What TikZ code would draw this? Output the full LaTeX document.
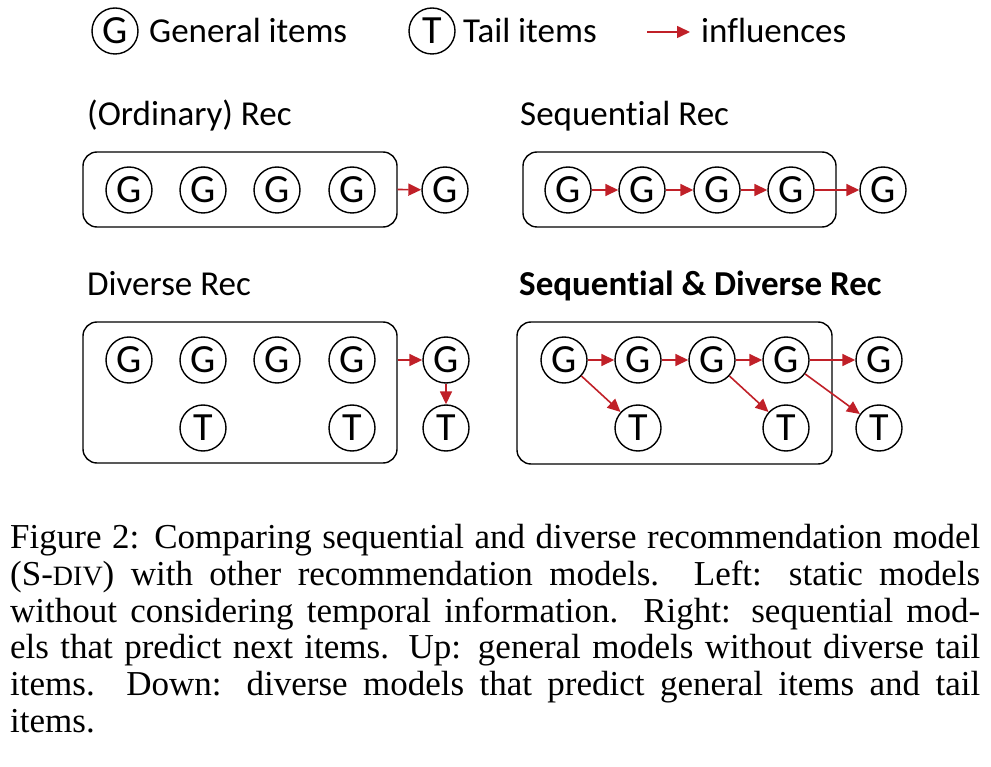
\documentclass[tikz,border=0pt]{standalone}
\usepackage{fontspec}
\setmainfont{Liberation Serif}
\newfontfamily\calibri[Ligatures=NoCommon]{Carlito}
\usetikzlibrary{arrows.meta}
\definecolor{inflred}{RGB}{192,32,40}
\tikzstyle{item} = [circle, draw=black, line width=1.4pt, minimum size=46pt, inner sep=0pt, font=\calibri\fontsize{40}{40}\selectfont]
\tikzstyle{group} = [rectangle, rounded corners=14pt, draw=black, line width=1.4pt, inner sep=0pt]
\tikzstyle{label} = [anchor=base west, inner sep=0pt, font=\calibri\fontsize{35}{35}\selectfont]
\tikzstyle{arrow} = [draw=inflred, line width=1.6pt, -{Triangle[length=13pt,width=12pt]}]
\newcommand{\fakesc}[1]{{\fontsize{28}{28}\selectfont #1}}

\begin{document}
\begin{tikzpicture}[x=1pt, y=-1pt]
	\useasboundingbox (0,0) rectangle (991,767);
	% legend
	\node (lgG) at (115, 31) [item] {G};
	\node (lgGtext) at (149, 43) [label] {General items};
	\node (lgT) at (432, 31) [item] {T};
	\node (lgTtext) at (463, 43) [label] {Tail items};
	\coordinate (lgfrom) at (647, 32);
	\coordinate (lgto) at (690, 32);
	\draw[arrow] (lgfrom) -- (lgto);
	\node (lgtext) at (701, 43) [label] {influences};

	% (Ordinary) Rec
	\node (ordtitle) at (87, 126) [label] {(Ordinary) Rec};
	\node (ordbox) at (240, 189.5) [group, minimum width=314pt, minimum height=75pt] {};
	\node (ordg1) at (129, 190) [item] {G};
	\node (ordg2) at (203, 190) [item] {G};
	\node (ordg3) at (277, 190) [item] {G};
	\node (ordg4) at (352, 190) [item] {G};
	\node (ordnext) at (445, 190) [item] {G};
	\draw[arrow] (ordbox.east) -- (ordnext);

	% Sequential Rec
	\node (seqtitle) at (520, 126) [label] {Sequential Rec};
	\node (seqbox) at (679.5, 189.5) [group, minimum width=313pt, minimum height=75pt] {};
	\node (seqg1) at (568, 190) [item] {G};
	\node (seqg2) at (642, 190) [item] {G};
	\node (seqg3) at (717, 190) [item] {G};
	\node (seqg4) at (791, 190) [item] {G};
	\node (seqnext) at (883, 190) [item] {G};
	\draw[arrow] (seqg1) -- (seqg2);
	\draw[arrow] (seqg2) -- (seqg3);
	\draw[arrow] (seqg3) -- (seqg4);
	\draw[arrow] (seqg4) -- (seqnext);

	% Diverse Rec
	\node (divtitle) at (87, 296) [label] {Diverse Rec};
	\node (divbox) at (240, 392.5) [group, minimum width=314pt, minimum height=141pt] {};
	\node (divg1) at (129, 360) [item] {G};
	\node (divg2) at (203, 360) [item] {G};
	\node (divg3) at (277, 360) [item] {G};
	\node (divg4) at (352, 360) [item] {G};
	\node (divt1) at (203, 428) [item] {T};
	\node (divt2) at (352, 428) [item] {T};
	\node (divnextg) at (446, 360) [item] {G};
	\node (divnextt) at (446, 428) [item] {T};
	\draw[arrow] (divbox.east |- divnextg) -- (divnextg);
	\draw[arrow] (divnextg) -- (divnextt);

	% Sequential & Diverse Rec
	\node (sdtitle) at (519, 296) [label, font=\calibri\bfseries\fontsize{35}{35}\selectfont] {Sequential \& Diverse Rec};
	\node (sdbox) at (674.5, 393) [group, minimum width=315pt, minimum height=142pt] {};
	\node (sdg1) at (564, 360) [item] {G};
	\node (sdg2) at (638, 360) [item] {G};
	\node (sdg3) at (712, 360) [item] {G};
	\node (sdg4) at (786, 360) [item] {G};
	\node (sdnextg) at (879, 360) [item] {G};
	\node (sdt1) at (638, 428) [item] {T};
	\node (sdt2) at (786, 428) [item] {T};
	\node (sdnextt) at (879, 428) [item] {T};
	\draw[arrow] (sdg1) -- (sdg2);
	\draw[arrow] (sdg2) -- (sdg3);
	\draw[arrow] (sdg3) -- (sdg4);
	\draw[arrow] (sdg4) -- (sdnextg);
	\draw[arrow] (sdg1) -- (sdt1);
	\draw[arrow] (sdg3) -- (sdt2);
	\draw[arrow] (sdg4) -- (sdnextt);

	% caption
	\node (caption) at (10, 524) [anchor=north west, inner sep=0pt, text width=970pt, align=justify, font=\fontsize{35}{36.8}\selectfont]
		{Figure 2: Comparing sequential and diverse recommendation model\linebreak
		(S-\fakesc{DIV}) with other recommendation models. Left: static models\linebreak
		without considering temporal information. Right: sequential mod-\linebreak
		els that predict next items. Up: general models without diverse tail\linebreak
		items. Down: diverse models that predict general items and tail\linebreak
		items.};
\end{tikzpicture}
\end{document}
